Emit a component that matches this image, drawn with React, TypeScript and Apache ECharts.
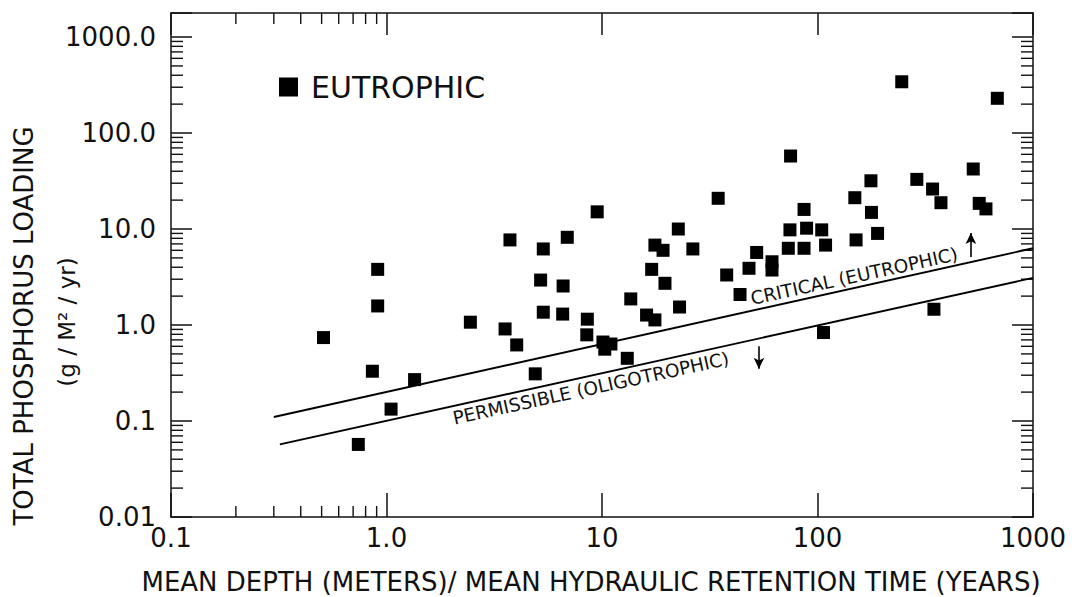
import React, { useEffect, useRef } from 'react';
import * as echarts from 'echarts';

// ---- axis ticks ----
const X_MIN = 0.1;
const X_MAX = 1000;
const Y_MIN = 0.01;
const Y_MAX = 1780;
const xTickValues = [0.1, 1, 10, 100, 1000];
const xTickLabels = ['0.1', '1.0', '10', '100', '1000'];
const yTickValues = [0.01, 0.1, 1, 10, 100, 1000];
const yTickLabels = ['0.01', '0.1', '1.0', '10.0', '100.0', '1000.0'];
const xMinorTicks = [0.2, 0.3, 0.4, 0.5, 0.6, 0.7, 0.8, 0.9];
const yMinorTicks = [
  0.02, 0.03, 0.04, 0.05, 0.06, 0.07, 0.08, 0.09,
  0.2, 0.3, 0.4, 0.5, 0.6, 0.7, 0.8, 0.9,
  2, 3, 4, 5, 6, 7, 8, 9,
  20, 30, 40, 50, 60, 70, 80, 90,
  200, 300, 400, 500, 600, 700, 800, 900,
];

// ---- eutrophic lakes (x = mean depth / retention time, y = P loading) ----
const eutrophicX = [
  0.51, 0.91, 0.91, 0.86, 1.35, 1.05, 0.74, 2.45,
  9.5, 3.74, 6.9, 5.34, 17.6, 19.2, 17.0, 5.19, 6.6, 13.6, 5.34, 6.57,
  16.1, 17.6, 3.55, 8.55, 8.5, 10.1, 11.0, 10.3, 4.02, 13.1, 4.9,
  75, 34.6, 86.6, 22.6, 74.5, 89, 104.6, 26.4, 52.2, 73.2, 86.6, 109,
  61.5, 61.5, 48.1, 37.9, 19.6, 43.7, 22.9, 106.6,
  246, 683, 528, 177, 289, 342, 374, 149, 178, 563, 605, 151, 190, 347,
];
const eutrophicY = [
  0.74, 3.8, 1.58, 0.33, 0.27, 0.133, 0.057, 1.07,
  15.1, 7.7, 8.2, 6.2, 6.8, 6.0, 3.8, 2.94, 2.55, 1.87, 1.36, 1.3,
  1.27, 1.13, 0.91, 1.15, 0.79, 0.665, 0.634, 0.56, 0.62, 0.45, 0.31,
  57.6, 20.9, 16.0, 10.0, 9.8, 10.2, 9.8, 6.2, 5.7, 6.3, 6.3, 6.8,
  4.56, 3.74, 3.9, 3.32, 2.72, 2.08, 1.54, 0.835,
  342, 230, 42.2, 31.8, 32.9, 26.1, 18.8, 21.2, 14.9, 18.5, 16.2, 7.7, 9.0, 1.46,
];

// ---- loading criteria lines ----
const criticalX = [0.3, 1000];
const criticalY = [0.11, 6.3];
const permissibleX = [0.32, 1000];
const permissibleY = [0.057, 3.1];

// ---- arrows (x, y from, y to) ----
const arrowUp = [515, 5.1, 9.1];
const arrowDown = [53.5, 0.6, 0.35];

const FONT = 'DejaVu Sans';
const INK = '#111';

export default function App() {
  const ref = useRef<HTMLDivElement>(null);

  useEffect(() => {
    const chart = echarts.init(ref.current as HTMLDivElement, null, { renderer: 'svg' });

    const fmt = (vals: number[], labels: string[]) => (v: number) => {
      const i = vals.findIndex((t) => Math.abs(Math.log10(v) - Math.log10(t)) < 1e-6);
      return i >= 0 ? labels[i] : '';
    };

    const tickLine = (x1: number, y1: number, x2: number, y2: number) => ({
      type: 'line',
      shape: { x1, y1, x2, y2 },
      style: { stroke: INK, lineWidth: 1.4 },
    });

    const lineStyle = { color: INK, width: 1.5 };

    const option: any = {
      animation: false,
      backgroundColor: '#fff',
      grid: { left: 171, right: 42, top: 13, bottom: 80, outerBoundsMode: 'none', containLabel: false },
      legend: {
        data: [{ name: 'EUTROPHIC', icon: 'rect', itemStyle: { color: '#000', opacity: 1 } }],
        left: 274,
        top: 67,
        itemWidth: 19,
        itemHeight: 19,
        textStyle: { fontSize: 30, fontFamily: FONT, color: INK, padding: [0, 0, 0, 8] },
        selectedMode: false,
      },
      xAxis: [
        {
          type: 'log', logBase: 10, min: X_MIN, max: X_MAX, position: 'bottom',
          axisLine: { show: true, lineStyle },
          axisTick: { show: true, inside: true, length: 24, lineStyle },
          axisLabel: { formatter: fmt(xTickValues, xTickLabels), fontSize: 26, fontFamily: FONT, color: INK, margin: 8 },
          splitLine: { show: false }, minorTick: { show: false },
        },
        {
          type: 'log', logBase: 10, min: X_MIN, max: X_MAX, position: 'top',
          axisLine: { show: true, lineStyle },
          axisTick: { show: true, inside: true, length: 22, lineStyle },
          axisLabel: { show: false },
          splitLine: { show: false }, minorTick: { show: false },
        },
      ],
      yAxis: [
        {
          type: 'log', logBase: 10, min: Y_MIN, max: Y_MAX, position: 'left',
          axisLine: { show: true, lineStyle },
          axisTick: { show: true, inside: true, length: 21, lineStyle },
          axisLabel: { formatter: fmt(yTickValues, yTickLabels), fontSize: 26, fontFamily: FONT, color: INK, margin: 15 },
          splitLine: { show: false }, minorTick: { show: false },
        },
        {
          type: 'log', logBase: 10, min: Y_MIN, max: Y_MAX, position: 'right',
          axisLine: { show: true, lineStyle },
          axisTick: { show: true, inside: true, length: 21, lineStyle },
          axisLabel: { show: false },
          splitLine: { show: false }, minorTick: { show: false },
        },
      ],
      series: [
        {
          name: 'EUTROPHIC',
          type: 'scatter',
          symbol: 'rect',
          symbolSize: 13,
          itemStyle: { color: '#000', opacity: 1 },
          emphasis: { disabled: true },
          data: eutrophicX.map((x, i) => [x, eutrophicY[i]]),
          z: 5,
        },
        {
          name: 'CRITICAL (EUTROPHIC)',
          type: 'line',
          showSymbol: false,
          symbol: 'none',
          lineStyle: { color: '#000', width: 1.9 },
          data: criticalX.map((x, i) => [x, criticalY[i]]),
          markLine: {
            silent: true,
            symbol: ['none', 'arrow'],
            symbolSize: [8, 11],
            label: { show: false },
            lineStyle: { color: '#000', width: 1.6, type: 'solid' },
            data: [[{ coord: [arrowUp[0], arrowUp[1]] }, { coord: [arrowUp[0], arrowUp[2]] }]],
          },
        },
        {
          name: 'PERMISSIBLE (OLIGOTROPHIC)',
          type: 'line',
          showSymbol: false,
          symbol: 'none',
          lineStyle: { color: '#000', width: 1.9 },
          data: permissibleX.map((x, i) => [x, permissibleY[i]]),
          markLine: {
            silent: true,
            symbol: ['none', 'arrow'],
            symbolSize: [8, 11],
            label: { show: false },
            lineStyle: { color: '#000', width: 1.6, type: 'solid' },
            data: [[{ coord: [arrowDown[0], arrowDown[1]] }, { coord: [arrowDown[0], arrowDown[2]] }]],
          },
        },
        {
          type: 'custom', name: 'xMinorBottom', silent: true, clip: false,
          data: xMinorTicks.map((v) => [v, 1]),
          renderItem: (_p: any, api: any) => {
            const p = api.coord([api.value(0), Y_MIN]);
            return tickLine(p[0], p[1], p[0], p[1] - 11);
          },
        },
        {
          type: 'custom', name: 'xMinorTop', silent: true, clip: false,
          data: xMinorTicks.map((v) => [v, 1]),
          renderItem: (_p: any, api: any) => {
            const p = api.coord([api.value(0), Y_MAX]);
            return tickLine(p[0], p[1], p[0], p[1] + 11);
          },
        },
        {
          type: 'custom', name: 'yMinorLeft', silent: true, clip: false,
          data: yMinorTicks.map((v) => [1, v]),
          renderItem: (_p: any, api: any) => {
            const p = api.coord([X_MIN, api.value(1)]);
            return tickLine(p[0], p[1], p[0] + 12, p[1]);
          },
        },
        {
          type: 'custom', name: 'yMinorRight', silent: true, clip: false,
          data: yMinorTicks.map((v) => [1, v]),
          renderItem: (_p: any, api: any) => {
            const p = api.coord([X_MAX, api.value(1)]);
            return tickLine(p[0], p[1], p[0] - 12, p[1]);
          },
        },
      ],
      graphic: [
        {
          type: 'text', x: 24, y: 326, rotation: Math.PI / 2,
          style: { text: 'TOTAL PHOSPHORUS LOADING', fontSize: 26, fontFamily: FONT, fill: INK, align: 'center', verticalAlign: 'middle' },
        },
        {
          type: 'text', x: 67, y: 322, rotation: Math.PI / 2,
          style: { text: '(g / M² / yr)', fontSize: 23, fontFamily: FONT, fill: INK, align: 'center', verticalAlign: 'middle' },
        },
        {
          type: 'text', x: 591, y: 582,
          style: { text: 'MEAN DEPTH (METERS)/ MEAN HYDRAULIC RETENTION TIME (YEARS)', fontSize: 26, fontFamily: FONT, fill: INK, align: 'center', verticalAlign: 'middle' },
        },
        {
          type: 'text', x: 753, y: 308, rotation: 0.215,
          style: { text: 'CRITICAL (EUTROPHIC)', fontSize: 18.5, fontFamily: FONT, fill: INK, align: 'left', verticalAlign: 'bottom' },
        },
        {
          type: 'text', x: 451, y: 409, rotation: 0.215,
          style: { text: 'PERMISSIBLE (OLIGOTROPHIC)', fontSize: 18.5, fontFamily: FONT, fill: INK, align: 'left', verticalAlign: 'top' },
        },
      ],
    };

    chart.setOption(option);
    return () => chart.dispose();
  }, []);

  return <div ref={ref} style={{ position: 'absolute', left: 0, top: 0, width: 1075, height: 597 }} />;
}
